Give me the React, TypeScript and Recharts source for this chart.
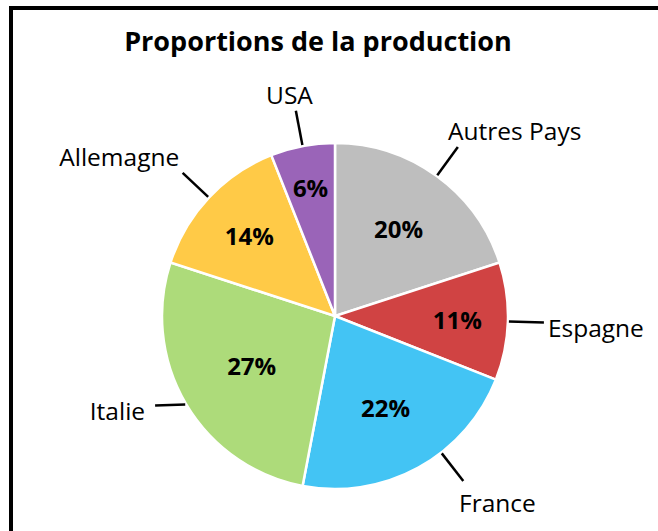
import { Pie, PieChart, Cell } from "recharts";

// parts de la production par pays (%)
const countries = ["Autres Pays", "Espagne", "France", "Italie", "Allemagne", "USA"];
const shares = [20, 11, 22, 27, 14, 6];
const colors = ["#bebebe", "#d04343", "#43c4f4", "#addb7a", "#ffca47", "#9a64b8"];

const data = countries.map((name, i) => ({ name, value: shares[i] }));

const FONT = "'Open Sans', Lato, sans-serif";
const LABEL_SIZE = 24.5;
const RAD = Math.PI / 180;

let ctx: CanvasRenderingContext2D | null = null;
const textWidth = (s: string) => {
  if (!ctx) ctx = document.createElement("canvas").getContext("2d");
  if (!ctx) return s.length * 12;
  ctx.font = `${LABEL_SIZE}px ${FONT}`;
  return ctx.measureText(s).width;
};

const renderLabel = (props: any) => {
  const { cx, cy, midAngle, outerRadius, percent, name } = props;
  const R = outerRadius + 36;
  let cos = Math.cos(-midAngle * RAD);
  let sin = Math.sin(-midAngle * RAD);
  // garder les étiquettes du bas dans le cadre
  const limit = 165;
  if (sin * R > limit) {
    sin = limit / R;
    cos = Math.sign(cos) * Math.sqrt(1 - sin * sin);
  }
  const sx = cx + (outerRadius + 1) * cos;
  const sy = cy + (outerRadius + 1) * sin;
  const ex = cx + R * cos;
  let ey = cy + R * sin;

  // étiquette accrochée sur le côté ou au-dessus / en dessous
  let tx: number;
  let ty: number;
  let anchor: "start" | "end" | "middle" = "middle";
  if (Math.abs(cos) > 0.8) {
    anchor = cos > 0 ? "start" : "end";
    tx = ex + (cos > 0 ? 4 : -10);
    ty = ey + 6 - 35 * sin;
    ey = ty - 5;
  } else {
    const w = textWidth(name);
    tx = ex + cos * (w / 2) * 1.45;
    ty = ey + (sin > 0 ? 21 : -16);
  }

  // pourcentage à l'intérieur : plus loin du centre pour les petites parts
  const ir = 140 - 160 * percent;
  const ix = cx + ir * Math.cos(-midAngle * RAD);
  const iy = cy + ir * Math.sin(-midAngle * RAD);

  return (
    <g>
      <line x1={sx} y1={sy} x2={ex} y2={ey} stroke="#000" strokeWidth={2.5} />
      <text
        x={tx}
        y={ty}
        textAnchor={anchor}
        dominantBaseline="central"
        fontFamily={FONT}
        fontSize={LABEL_SIZE}
        fill="#000"
      >
        {name}
      </text>
      <text
        x={ix}
        y={iy}
        textAnchor="middle"
        dominantBaseline="central"
        fontFamily={FONT}
        fontSize={24}
        fontWeight="bold"
        fill="#000"
      >
        {`${Math.round(percent * 100)}%`}
      </text>
    </g>
  );
};

export default function App() {
  return (
    <div style={{ position: "absolute", left: 0, top: 0, width: 658, height: 531, overflow: "hidden", background: "#fff" }}>
      <div
        style={{
          position: "absolute",
          left: 9,
          top: 6,
          width: 700,
          height: 600,
          borderLeft: "4px solid #000",
          borderTop: "4px solid #000",
        }}
      />
      <PieChart
        width={658}
        height={531}
        margin={{ top: 0, right: 0, bottom: 0, left: 0 }}
        style={{ position: "absolute", left: 0, top: 0 }}
      >
        <text
          x={318}
          y={40}
          textAnchor="middle"
          dominantBaseline="central"
          fontFamily={FONT}
          fontSize={27}
          fontWeight="bold"
          fill="#000"
        >
          Proportions de la production
        </text>
        <Pie
          data={data}
          dataKey="value"
          nameKey="name"
          cx={335}
          cy={316}
          outerRadius={173}
          startAngle={90}
          endAngle={-270}
          stroke="#fff"
          strokeWidth={2.5}
          label={renderLabel}
          labelLine={false}
          isAnimationActive={false}
        >
          {data.map((d, i) => (
            <Cell key={d.name} fill={colors[i]} />
          ))}
        </Pie>
      </PieChart>
    </div>
  );
}
